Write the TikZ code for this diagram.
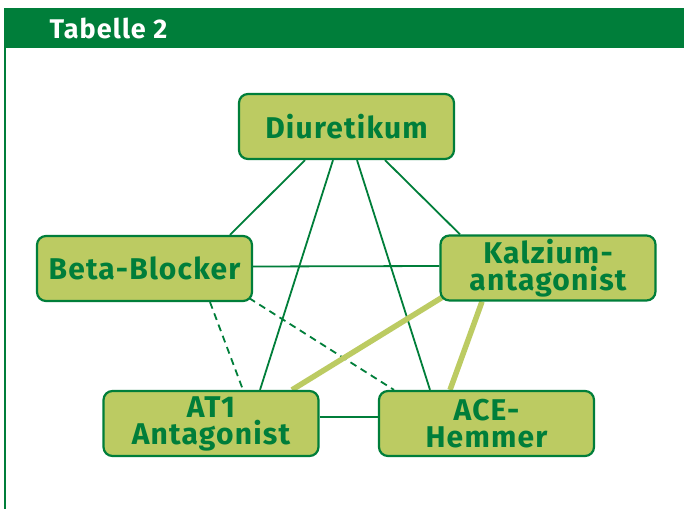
\documentclass[tikz,border=0pt]{standalone}
\usepackage{fontspec}
\setmainfont{Fira Sans}[LetterSpace=4]
\usetikzlibrary{backgrounds}
\definecolor{dgreen}{HTML}{007E3A}
\definecolor{lgreen}{HTML}{BCCB62}
\begin{document}
\begin{tikzpicture}[x=1pt,y=1pt,
  drug/.style={draw=dgreen,line width=2.2pt,fill=lgreen,rounded corners=9pt,
    minimum width=215pt,minimum height=65pt,inner sep=0pt,align=center,
    text=dgreen,font=\fontsize{30}{27}\selectfont\bfseries},
  conn/.style={dgreen,line width=1.8pt},
  dconn/.style={dgreen,line width=1.8pt,dash pattern=on 7pt off 5pt},
  thick conn/.style={lgreen,line width=5.5pt}]
\useasboundingbox (0,0) rectangle (684,509);
\fill[dgreen] (4,461) rectangle (684,501);
\draw[dgreen,line width=2pt] (5,461) -- (5,0);
\node[anchor=west,text=white,font=\fontsize{27}{28}\selectfont\bfseries] (title) at (46,481) {Tabelle 2};
\node[drug] (d) at (346.5,382.5) {Diuretikum};
\node[drug] (bb) at (144.5,240.5) {Beta-Blocker};
\node[drug] (kz) at (548,241) {Kalzium-\\antagonist};
\node[drug] (at) at (211,85.5) {AT1\\Antagonist};
\node[drug] (ace) at (486.5,85.5) {ACE-\\Hemmer};
\begin{scope}[on background layer]
\fill[white] (0,0) rectangle (684,509);
\draw[conn] ([xshift=-41.5pt]d.south) -- ([xshift=85.5pt]bb.north);
\draw[conn] ([xshift=38.5pt]d.south) -- ([xshift=-88pt]kz.north);
\draw[conn] ([xshift=-13.5pt]d.south) -- ([xshift=49pt]at.north);
\draw[conn] ([xshift=10.5pt]d.south) -- ([xshift=-56.5pt]ace.north);
\draw[conn] ([yshift=2pt]bb.east) -- ([yshift=2pt]kz.west);
\draw[conn] ([yshift=6.5pt]at.east) -- ([yshift=6.5pt]ace.west);
\draw[dconn] ([xshift=65.5pt]bb.south) -- ([xshift=32pt]at.north);
\draw[dconn] ([xshift=-4pt,yshift=4pt]bb.south east) -- ([xshift=-92.5pt]ace.north);
\draw[thick conn] ([xshift=4pt,yshift=5pt]kz.south west) -- ([xshift=81pt]at.north);
\draw[thick conn] ([xshift=-66pt]kz.south) -- ([xshift=-36.5pt]ace.north);
\end{scope}
\end{tikzpicture}
\end{document}
